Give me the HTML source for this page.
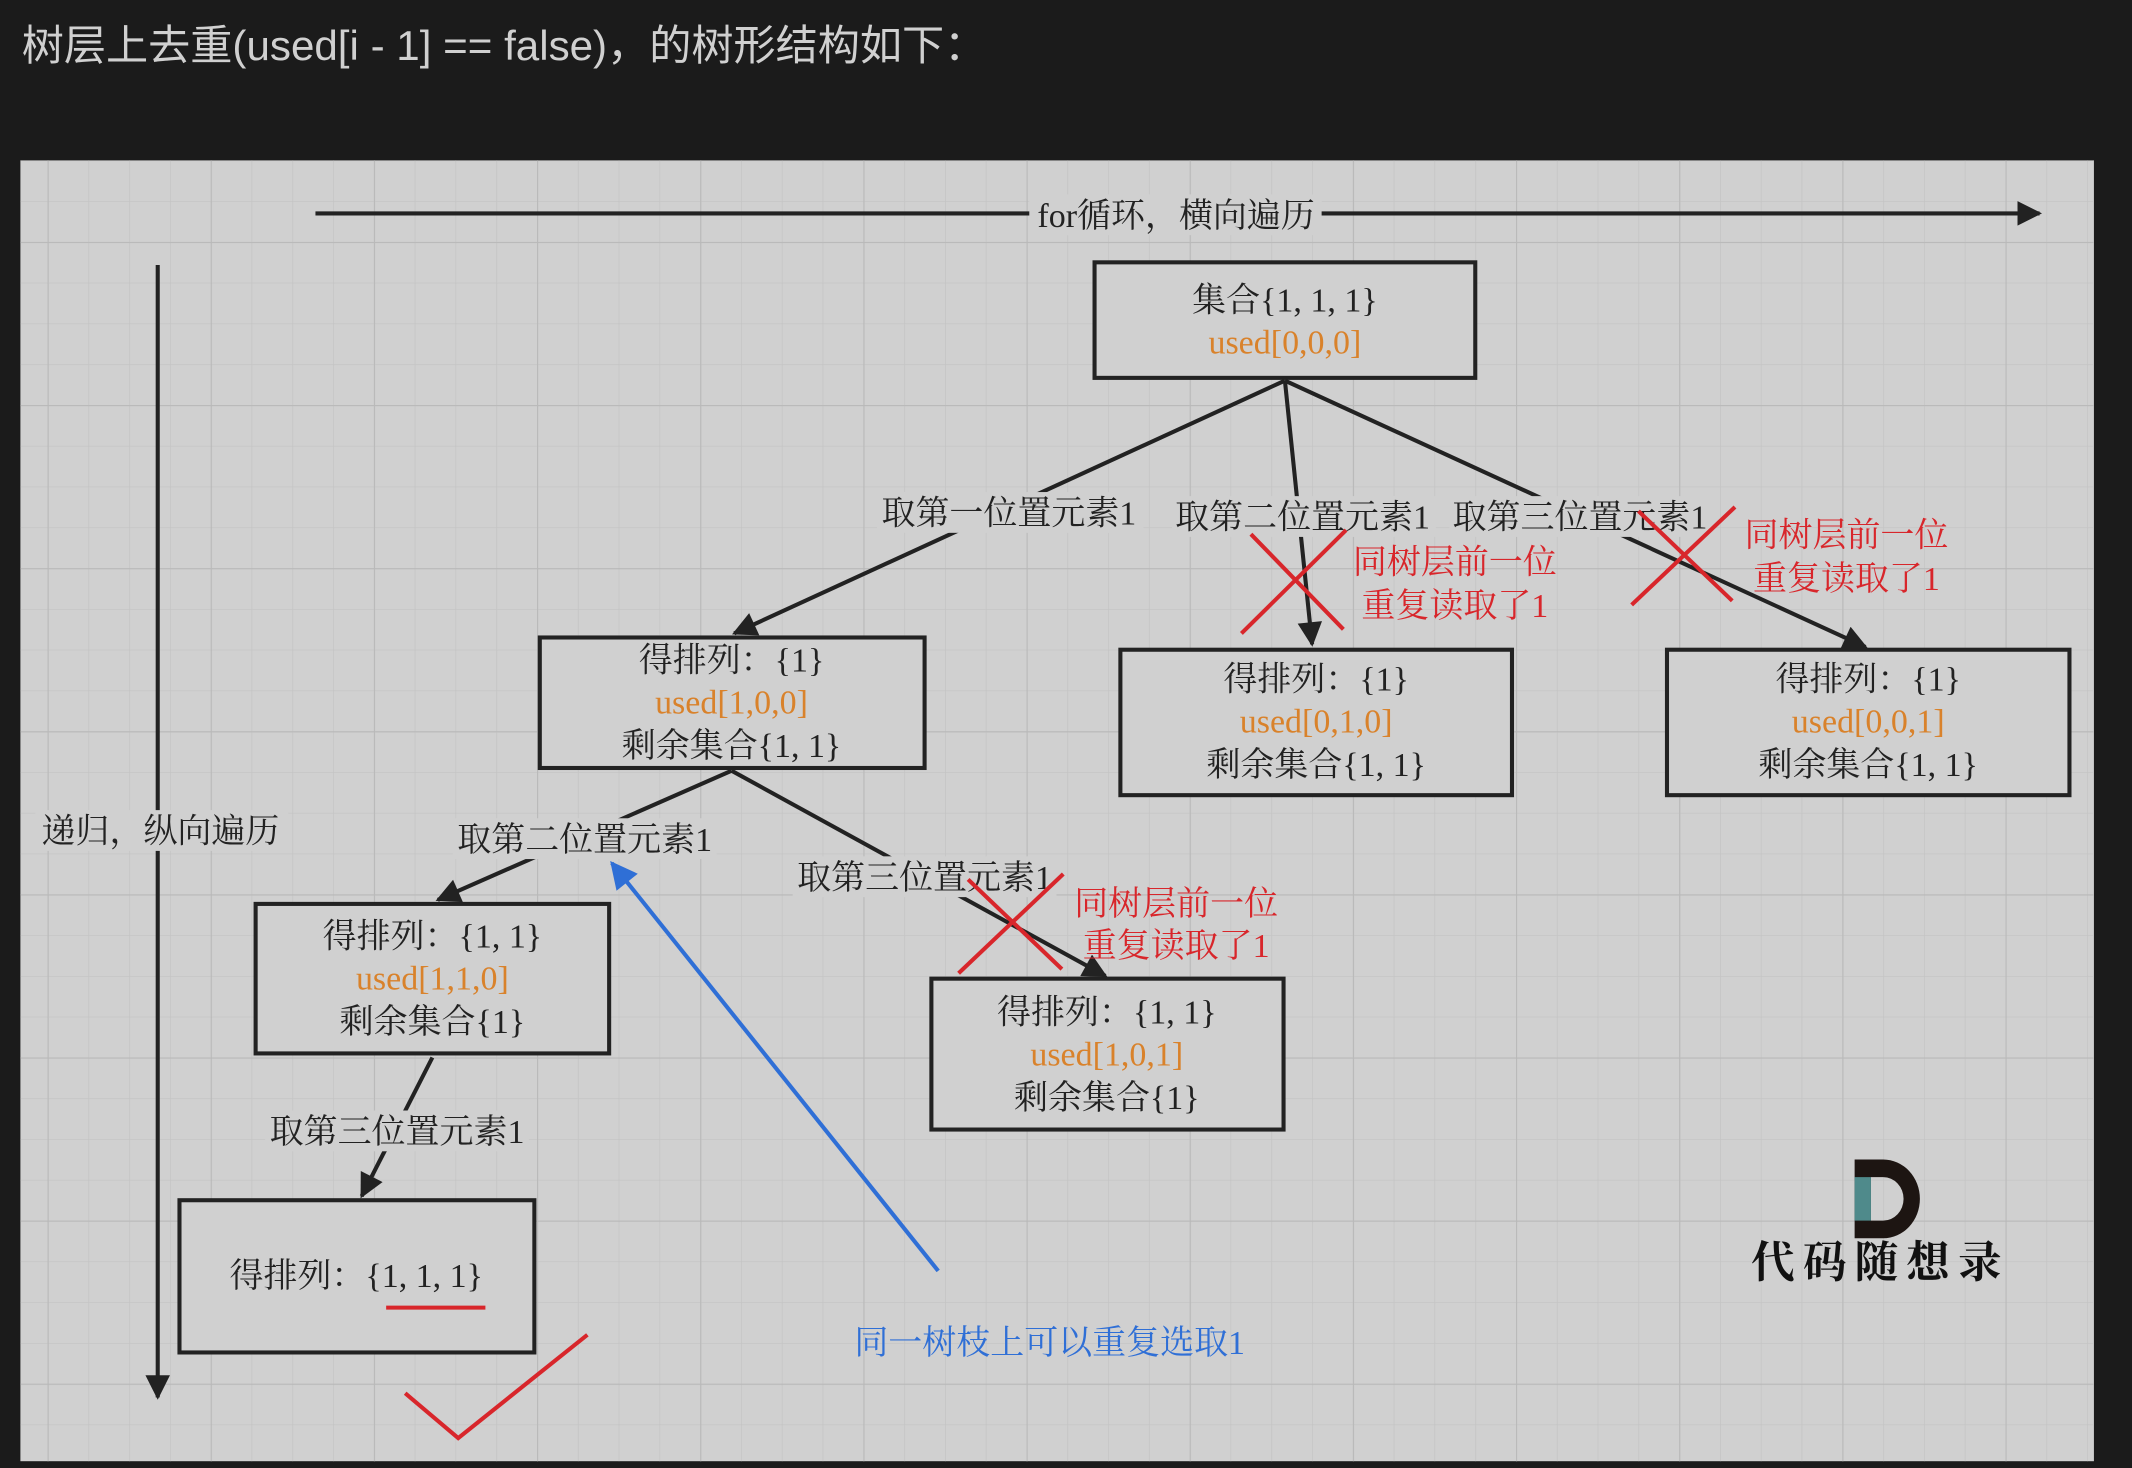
<!DOCTYPE html>
<html><head><meta charset="utf-8"><style>
html,body{margin:0;padding:0;background:#1b1b1b;}
svg{display:block}
.t{font-family:"Liberation Serif","Noto Serif CJK SC",serif;font-size:25px;fill:#222;text-anchor:middle}
.o{fill:#d9822b}
.r{fill:#d8262b}
</style></head><body>
<svg width="2132" height="1468" viewBox="0 0 1568 1080" preserveAspectRatio="none" xmlns="http://www.w3.org/2000/svg">
<defs>
<pattern id="g" x="5" y="28" width="30" height="30" patternUnits="userSpaceOnUse">
<path d="M0 0H30M0 0V30" stroke="#c3c3c3" stroke-width="1" fill="none"/>
</pattern>
<pattern id="G" x="35" y="58" width="120" height="120" patternUnits="userSpaceOnUse">
<path d="M0 0H120M0 0V120" stroke="#b9b9b9" stroke-width="1.6" fill="none"/>
</pattern>
<marker id="A" viewBox="0 0 10 10" markerWidth="26" markerHeight="18" refX="9" refY="5" orient="auto" markerUnits="userSpaceOnUse">
<path d="M0 0L10 5L0 10z" fill="#222"/></marker>
<marker id="b" viewBox="0 0 10 10" markerWidth="24" markerHeight="20" refX="9" refY="5" orient="auto" markerUnits="userSpaceOnUse">
<path d="M0 0L10 5L0 10z" fill="#2f6fd6"/></marker>
</defs>
<rect width="1568" height="1080" fill="#1b1b1b"/>
<text x="16" y="44" font-family="Liberation Sans,'Noto Sans CJK SC',sans-serif" font-size="31" fill="#d0d0d0">树层上去重(used[i - 1] == false)，的树形结构如下：</text>
<rect x="15" y="118" width="1525" height="957" fill="#d0d0d0"/>
<rect x="15" y="118" width="1525" height="957" fill="url(#g)"/>
<rect x="15" y="118" width="1525" height="957" fill="url(#G)"/>

<g stroke="#222" stroke-width="3" fill="none">
<line x1="232" y1="157" x2="1500" y2="157" marker-end="url(#A)"/>
<line x1="116" y1="195" x2="116" y2="1028" marker-end="url(#A)"/>
<line x1="945" y1="280" x2="540" y2="466" marker-end="url(#A)"/>
<line x1="945" y1="280" x2="965" y2="474" marker-end="url(#A)"/>
<line x1="945" y1="280" x2="1372" y2="476" marker-end="url(#A)"/>
<line x1="538" y1="567" x2="322" y2="662" marker-end="url(#A)"/>
<line x1="538" y1="567" x2="813" y2="718" marker-end="url(#A)"/>
<line x1="318" y1="778" x2="266" y2="880" marker-end="url(#A)"/>
</g>
<g fill="#d0d0d0">
<rect x="757" y="143" width="215" height="30"/>
<rect x="26" y="596" width="186" height="30"/>
<rect x="645" y="362" width="196" height="30"/>
<rect x="862" y="365" width="194" height="30"/>
<rect x="1066" y="365" width="194" height="30"/>
<rect x="333" y="602" width="194" height="30"/>
<rect x="583" y="630" width="194" height="30"/>
<rect x="195" y="817" width="194" height="30"/>
</g>
<text class="t" x="865" y="167">for循环，横向遍历</text>
<text class="t" x="118" y="620">递归，纵向遍历</text>
<text class="t" x="742" y="386">取第一位置元素1</text>
<text class="t" x="958" y="389">取第二位置元素1</text>
<text class="t" x="1162" y="389">取第三位置元素1</text>
<text class="t" x="430" y="626">取第二位置元素1</text>
<text class="t" x="680" y="654">取第三位置元素1</text>
<text class="t" x="292" y="841">取第三位置元素1</text>

<g fill="#d0d0d0" stroke="#222" stroke-width="3">
<rect x="805" y="193" width="280" height="85"/>
<rect x="397" y="469" width="283" height="96"/>
<rect x="824" y="478" width="288" height="107"/>
<rect x="1226" y="478" width="296" height="107"/>
<rect x="188" y="665" width="260" height="110"/>
<rect x="685" y="720" width="259" height="111"/>
<rect x="132" y="883" width="261" height="112"/>
</g>
<text class="t" x="945" y="229">集合{1, 1, 1}</text><text class="t o" x="945" y="260">used[0,0,0]</text>
<text class="t" x="538" y="494">得排列：{1}</text><text class="t o" x="538" y="525">used[1,0,0]</text><text class="t" x="538" y="557">剩余集合{1, 1}</text>
<text class="t" x="968" y="508">得排列：{1}</text><text class="t o" x="968" y="539">used[0,1,0]</text><text class="t" x="968" y="571">剩余集合{1, 1}</text>
<text class="t" x="1374" y="508">得排列：{1}</text><text class="t o" x="1374" y="539">used[0,0,1]</text><text class="t" x="1374" y="571">剩余集合{1, 1}</text>
<text class="t" x="318" y="697">得排列：{1, 1}</text><text class="t o" x="318" y="728">used[1,1,0]</text><text class="t" x="318" y="760">剩余集合{1}</text>
<text class="t" x="814" y="753">得排列：{1, 1}</text><text class="t o" x="814" y="784">used[1,0,1]</text><text class="t" x="814" y="816">剩余集合{1}</text>
<text class="t" x="262" y="947">得排列：{1, 1, 1}</text>
<line x1="284" y1="962" x2="357" y2="962" stroke="#d8262b" stroke-width="3"/>

<g stroke="#d8262b" stroke-width="3">
<line x1="913" y1="466" x2="990" y2="390"/><line x1="920" y1="393" x2="988" y2="463"/>
<line x1="1200" y1="445" x2="1276" y2="373"/><line x1="1205" y1="376" x2="1274" y2="442"/>
<line x1="705" y1="716" x2="782" y2="643"/><line x1="712" y1="647" x2="781" y2="713"/>
</g>
<text class="t r" x="1070" y="422">同树层前一位</text><text class="t r" x="1070" y="454">重复读取了1</text>
<text class="t r" x="1358" y="402">同树层前一位</text><text class="t r" x="1358" y="434">重复读取了1</text>
<text class="t r" x="865" y="673">同树层前一位</text><text class="t r" x="865" y="704">重复读取了1</text>

<line x1="690" y1="935" x2="450" y2="635" stroke="#2f6fd6" stroke-width="3" marker-end="url(#b)"/>
<text class="t" x="772" y="996" style="fill:#2f6fd6">同一树枝上可以重复选取1</text>
<polyline points="298,1025 337,1058 432,982" fill="none" stroke="#d8262b" stroke-width="3"/>

<path d="M1364 853 H1385 A27 29 0 0 1 1385 911 H1364 Z M1376 866 V898 H1385 A15 16 0 0 0 1385 866 Z" fill="#1d1512" fill-rule="evenodd"/>
<rect x="1364" y="866" width="12" height="32" fill="#4f8a8b"/>
<text x="1383" y="940" font-family="'Noto Serif CJK SC',serif" font-size="32" font-weight="bold" fill="#111" text-anchor="middle" letter-spacing="6">代码随想录</text>
</svg>
</body></html>
